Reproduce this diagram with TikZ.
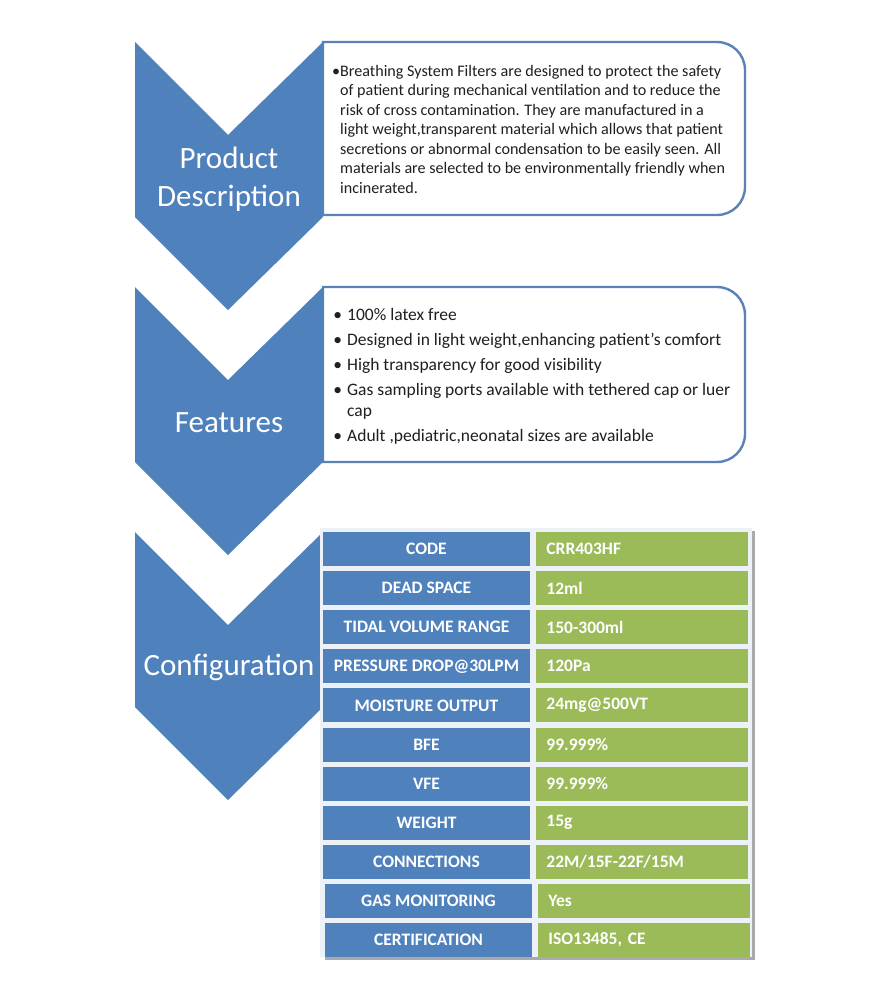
\documentclass[tikz,border=0pt]{standalone}
\usepackage{fontspec}
\setmainfont{Carlito}
\usetikzlibrary{positioning}
\definecolor{chevblue}{HTML}{4F81BD}
\definecolor{boxline}{HTML}{5A82B8}
\definecolor{valgreen}{HTML}{9BBB59}
\definecolor{tabback}{HTML}{EDF2F8}
\definecolor{tabshade}{HTML}{A8AAAD}
\tikzset{
  chev/.style={fill=chevblue},
  chevname/.style={text=white,font=\fontsize{31}{38}\selectfont,align=center,inner sep=0pt},
  descbox/.style={draw=boxline,line width=2.4pt,fill=white},
  desctext/.style={anchor=north west,inner sep=0pt,align=left,text=black!88,
    font=\fontsize{16.1}{19.5}\selectfont},
  feattext/.style={desctext,font=\fontsize{17.5}{21}\selectfont},
  keycell/.style={fill=chevblue,text=white,font=\bfseries\fontsize{17.5}{20}\selectfont,
    minimum width=207pt,minimum height=34pt,inner sep=0pt},
  valcell/.style={fill=valgreen,text=white,font=\bfseries\fontsize{17.5}{20}\selectfont,
    text width=192pt,align=left,inner xsep=10pt,inner ysep=0pt,minimum height=34pt},
  rowgap/.style={node distance=4.7pt}
}

\begin{document}
\begin{tikzpicture}[x=1pt,y=-1pt]
\fill[white] (0,0) rectangle (873,982);
\useasboundingbox (0,0) rectangle (873,982);

% text boxes behind the chevrons
\draw[descbox] (323,215) -- (323,42) -- (500,42) [rounded corners=28pt] -- (745,42) -- (745,215) -- (500,215) [sharp corners] -- cycle;
\draw[descbox] (323,462) -- (323,287) -- (500,287) [rounded corners=28pt] -- (745,287) -- (745,462) -- (500,462) [sharp corners] -- cycle;

% chevrons
\fill[chev] (135,42) -- ++(93,93) -- ++(95,-93) -- ++(0,175) -- ++(-95,93) -- ++(-93,-93) -- cycle;
\fill[chev] (135,287) -- ++(93,93) -- ++(95,-93) -- ++(0,175) -- ++(-95,93) -- ++(-93,-93) -- cycle;
\fill[chev] (135,532) -- ++(93,93) -- ++(95,-93) -- ++(0,175) -- ++(-95,93) -- ++(-93,-93) -- cycle;
\node[chevname] (prod) at (229,179) {Product\\Description};
\node[chevname] (feat) at (229,423) {Features};
\node[chevname] (conf) at (229,667) {Configuration};

% description
\node[desctext] (desc) at (340,65) {\llap{•}Breathing System Filters are designed to protect the safety\\
of patient during mechanical ventilation and to reduce the\\
risk of cross contamination. They are manufactured in a\\
light weight,transparent material which allows that patient\\
secretions or abnormal condensation to be easily seen. All\\
materials are selected to be environmentally friendly when\\
incinerated.};

% features
\node[feattext] (featlist) at (347,308.5) {\llap{•\hspace{5pt}}100\% latex free\\[4pt]
\llap{•\hspace{5pt}}Designed in light weight,enhancing patient's comfort\\[4pt]
\llap{•\hspace{5pt}}High transparency for good visibility\\[4pt]
\llap{•\hspace{5pt}}Gas sampling ports available with tethered cap or luer\\
cap\\[4pt]
\llap{•\hspace{5pt}}Adult ,pediatric,neonatal sizes are available};

% configuration table
\fill[tabshade] (325,531) rectangle (755,960);
\fill[tabback] (320,528) rectangle (752,957);
\node[keycell] (k1) at (426.5,549) {CODE};
\node[keycell,rowgap,below=of k1] (k2) {DEAD SPACE};
\node[keycell,rowgap,below=of k2] (k3) {TIDAL VOLUME RANGE};
\node[keycell,rowgap,below=of k3] (k4) {PRESSURE DROP@30LPM};
\node[keycell,rowgap,below=of k4] (k5) {MOISTURE OUTPUT};
\node[keycell,rowgap,below=of k5] (k6) {BFE};
\node[keycell,rowgap,below=of k6] (k7) {VFE};
\node[keycell,rowgap,below=of k7] (k8) {WEIGHT};
\node[keycell,rowgap,below=of k8] (k9) {CONNECTIONS};
\node[keycell,rowgap,below=of k9,xshift=2pt] (k10) {GAS MONITORING};
\node[keycell,rowgap,below=of k10] (k11) {CERTIFICATION};
\node[valcell,right=6pt of k1] (v1) {CRR403HF};
\node[valcell,right=6pt of k2] (v2) {12ml};
\node[valcell,right=6pt of k3] (v3) {150-300ml};
\node[valcell,right=6pt of k4] (v4) {120Pa};
\node[valcell,right=6pt of k5] (v5) {24mg@500VT};
\node[valcell,right=6pt of k6] (v6) {99.999\%};
\node[valcell,right=6pt of k7] (v7) {99.999\%};
\node[valcell,right=6pt of k8] (v8) {15g};
\node[valcell,right=6pt of k9] (v9) {22M/15F-22F/15M};
\node[valcell,right=6pt of k10] (v10) {Yes};
\node[valcell,right=6pt of k11] (v11) {ISO13485, CE};

\end{tikzpicture}
\end{document}
